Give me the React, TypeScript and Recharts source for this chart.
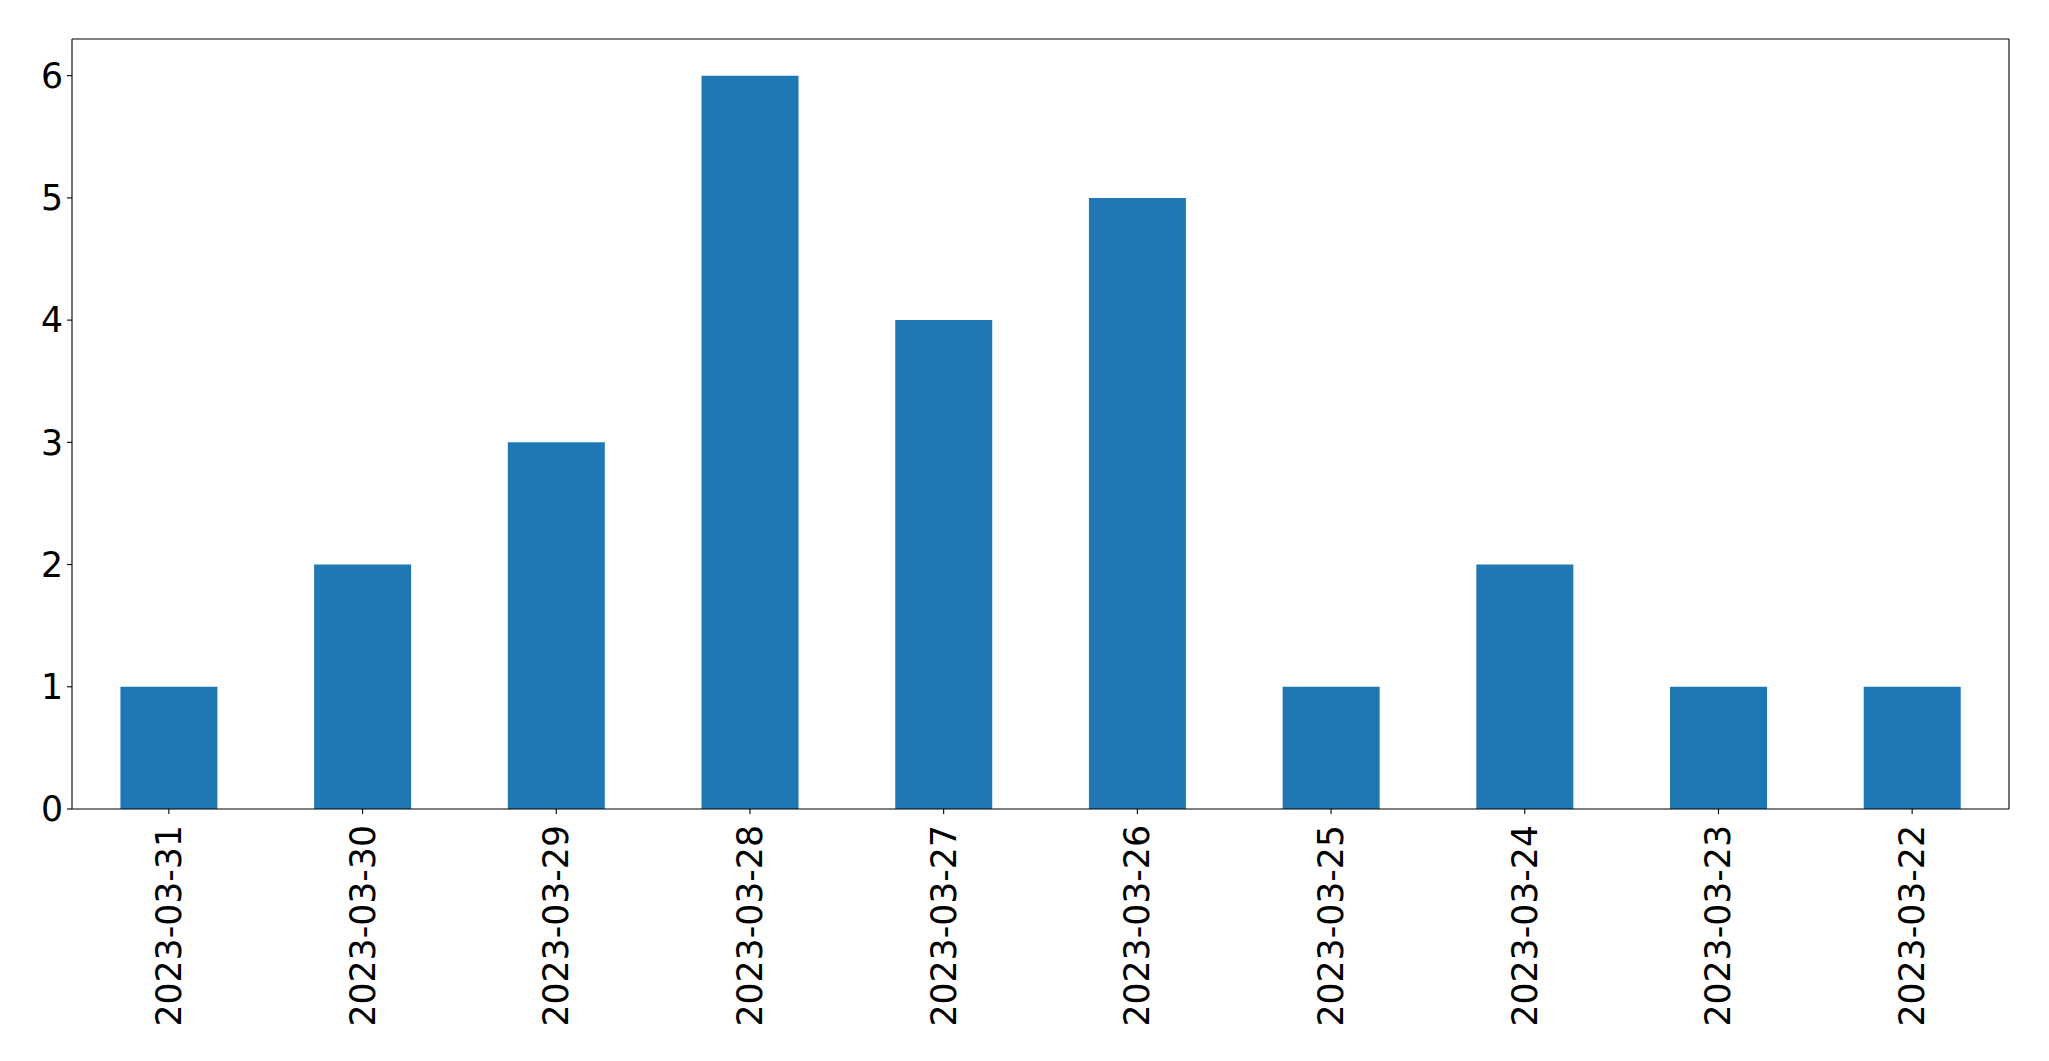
import { Bar, BarChart, XAxis, YAxis } from 'recharts'

const dates = [
  '2023-03-31',
  '2023-03-30',
  '2023-03-29',
  '2023-03-28',
  '2023-03-27',
  '2023-03-26',
  '2023-03-25',
  '2023-03-24',
  '2023-03-23',
  '2023-03-22',
]
const counts = [1, 2, 3, 6, 4, 5, 1, 2, 1, 1]
const yTicks = [0, 1, 2, 3, 4, 5, 6]

const data = dates.map((date, i) => ({ date, count: counts[i] }))

const FONT = '"DejaVu Sans", sans-serif'
const FONT_SIZE = 34.7

function DateTick({ x, y, payload }: any) {
  const ty = y + 9
  return (
    <text
      x={x}
      y={ty}
      transform={`rotate(-90, ${x}, ${ty})`}
      textAnchor="end"
      dominantBaseline="central"
      fontFamily={FONT}
      fontSize={FONT_SIZE}
      fill="#000"
    >
      {payload.value}
    </text>
  )
}

export default function App() {
  return (
    <div style={{ position: 'absolute', left: 0, top: 0, background: '#fff' }}>
      <BarChart
        width={2049}
        height={1061}
        data={data}
        margin={{ top: 38, right: 39, bottom: 0, left: 0 }}
        barCategoryGap="25%"
      >
        <XAxis
          dataKey="date"
          height={252}
          interval={0}
          tick={<DateTick />}
          tickSize={5}
          axisLine={{ stroke: '#000', strokeWidth: 1.1 }}
          tickLine={{ stroke: '#000', strokeWidth: 1.1 }}
        />
        <XAxis
          xAxisId="top"
          orientation="top"
          dataKey="date"
          height={1}
          tick={false}
          tickLine={false}
          axisLine={{ stroke: '#000', strokeWidth: 1.1 }}
        />
        <YAxis
          width={72}
          domain={[0, 6.3]}
          ticks={yTicks}
          tickSize={5}
          tickMargin={4}
          axisLine={{ stroke: '#000', strokeWidth: 1.1 }}
          tickLine={{ stroke: '#000', strokeWidth: 1.1 }}
          tick={{ fontFamily: FONT, fontSize: FONT_SIZE, fill: '#000' }}
        />
        <YAxis
          yAxisId="right"
          orientation="right"
          width={1}
          domain={[0, 6.3]}
          tick={false}
          tickLine={false}
          axisLine={{ stroke: '#000', strokeWidth: 1.1 }}
        />
        <Bar dataKey="count" fill="#1f77b4" isAnimationActive={false} />
      </BarChart>
    </div>
  )
}
